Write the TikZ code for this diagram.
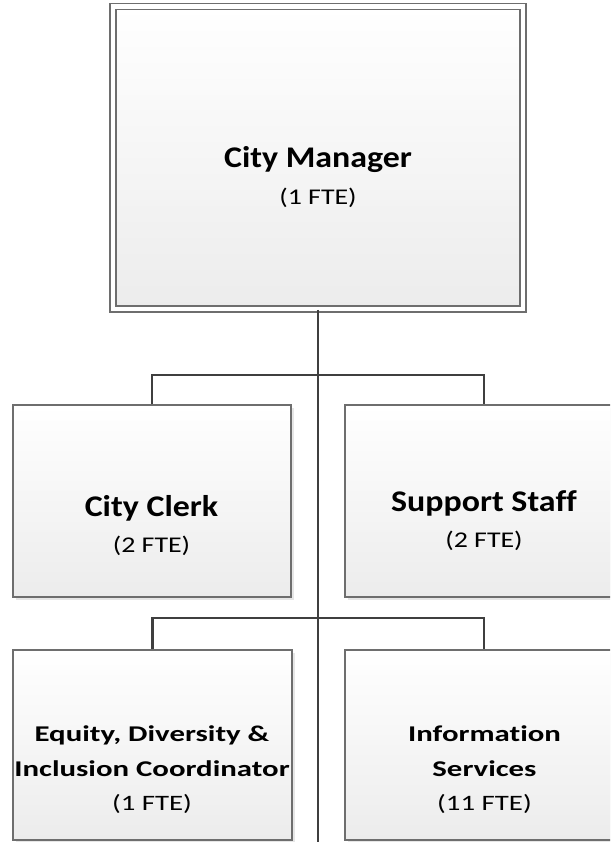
\documentclass[tikz,border=0pt]{standalone}
\usepackage{fontspec}
\setmainfont{Carlito}[Ligatures=NoCommon]
\newfontfamily\titlefont{Carlito}[FakeStretch=1.13, Ligatures=NoCommon]
\newfontfamily\countfont{Carlito}[FakeStretch=1.24, Ligatures=NoCommon]
\newfontfamily\unitfont{Carlito}[FakeStretch=1.37, Ligatures=NoCommon]
\newfontfamily\unitcountfont{Carlito}[FakeStretch=1.31, Ligatures=NoCommon]
\usetikzlibrary{shadows}
\definecolor{boxline}{HTML}{6E6E6E}
\definecolor{linkline}{HTML}{3F3F3F}
\definecolor{boxbottom}{HTML}{ECECEC}
\tikzset{
  orgbox/.style={rectangle, draw=boxline, line width=1.5pt,
    top color=white, bottom color=boxbottom,
    drop shadow={shadow xshift=3pt, shadow yshift=-3pt, fill=black!12, opacity=0.8},
    inner sep=0pt},
  headbox/.style={orgbox, double=white, double distance=4.5pt},
  link/.style={draw=linkline, line width=2.6pt},
  bigtitle/.style={anchor=base, inner sep=0pt, font=\titlefont\fontsize{30}{32}\selectfont\bfseries},
  bigcount/.style={anchor=base, inner sep=0pt, font=\countfont\fontsize{22.5}{24}\selectfont},
  unittitle/.style={anchor=base, inner sep=0pt, font=\unitfont\fontsize{22.5}{26}\selectfont\bfseries},
  unitcount/.style={anchor=base, inner sep=0pt, font=\unitcountfont\fontsize{22}{24}\selectfont},
}
\begin{document}
\begin{tikzpicture}[x=1pt, y=-1pt]
  \useasboundingbox (0,0) rectangle (610,842);
  \clip (0,0) rectangle (610,842);

  % boxes
  \node[headbox, minimum width=410pt, minimum height=302.5pt] (mgr) at (318,157.75) {};
  \node[orgbox, minimum width=278pt, minimum height=192pt] (clerk) at (152,501) {};
  \node[orgbox, minimum width=278pt, minimum height=192pt] (support) at (484,501) {};
  \node[orgbox, minimum width=279pt, minimum height=190pt] (edi) at (152.5,745) {};
  \node[orgbox, minimum width=278pt, minimum height=190pt] (info) at (484,745) {};

  % reporting lines
  \coordinate (trunkend) at (318,845);
  \coordinate (bar1) at (318,375);
  \coordinate (bar2) at (318,618);
  \draw[link] (mgr.south) -- (trunkend);
  \draw[link] (clerk.north) |- (bar1) -| (support.north);
  \draw[link] (edi.north) |- (bar2) -| (info.north);

  % texts
  \node[bigtitle] (mgrA) at (318,168) {City Manager};
  \node[bigcount] (mgrB) at (318,205) {(1 FTE)};

  \node[bigtitle] (clerkA) at (151.5,516) {City Clerk};
  \node[bigcount] (clerkB) at (151.5,552) {(2 FTE)};

  \node[bigtitle] (supportA) at (484,511) {Support Staff};
  \node[bigcount] (supportB) at (484,547) {(2 FTE)};

  \node[unittitle] (ediA) at (152,741.5) {Equity, Diversity \&};
  \node[unittitle] (ediB) at (152,776.5) {Inclusion Coordinator};
  \node[unitcount] (ediC) at (152,810.5) {(1 FTE)};

  \node[unittitle] (infoA) at (484.5,741.5) {Information};
  \node[unittitle] (infoB) at (484.5,776.5) {Services};
  \node[unitcount] (infoC) at (484.5,810.5) {(11 FTE)};
\end{tikzpicture}
\end{document}
